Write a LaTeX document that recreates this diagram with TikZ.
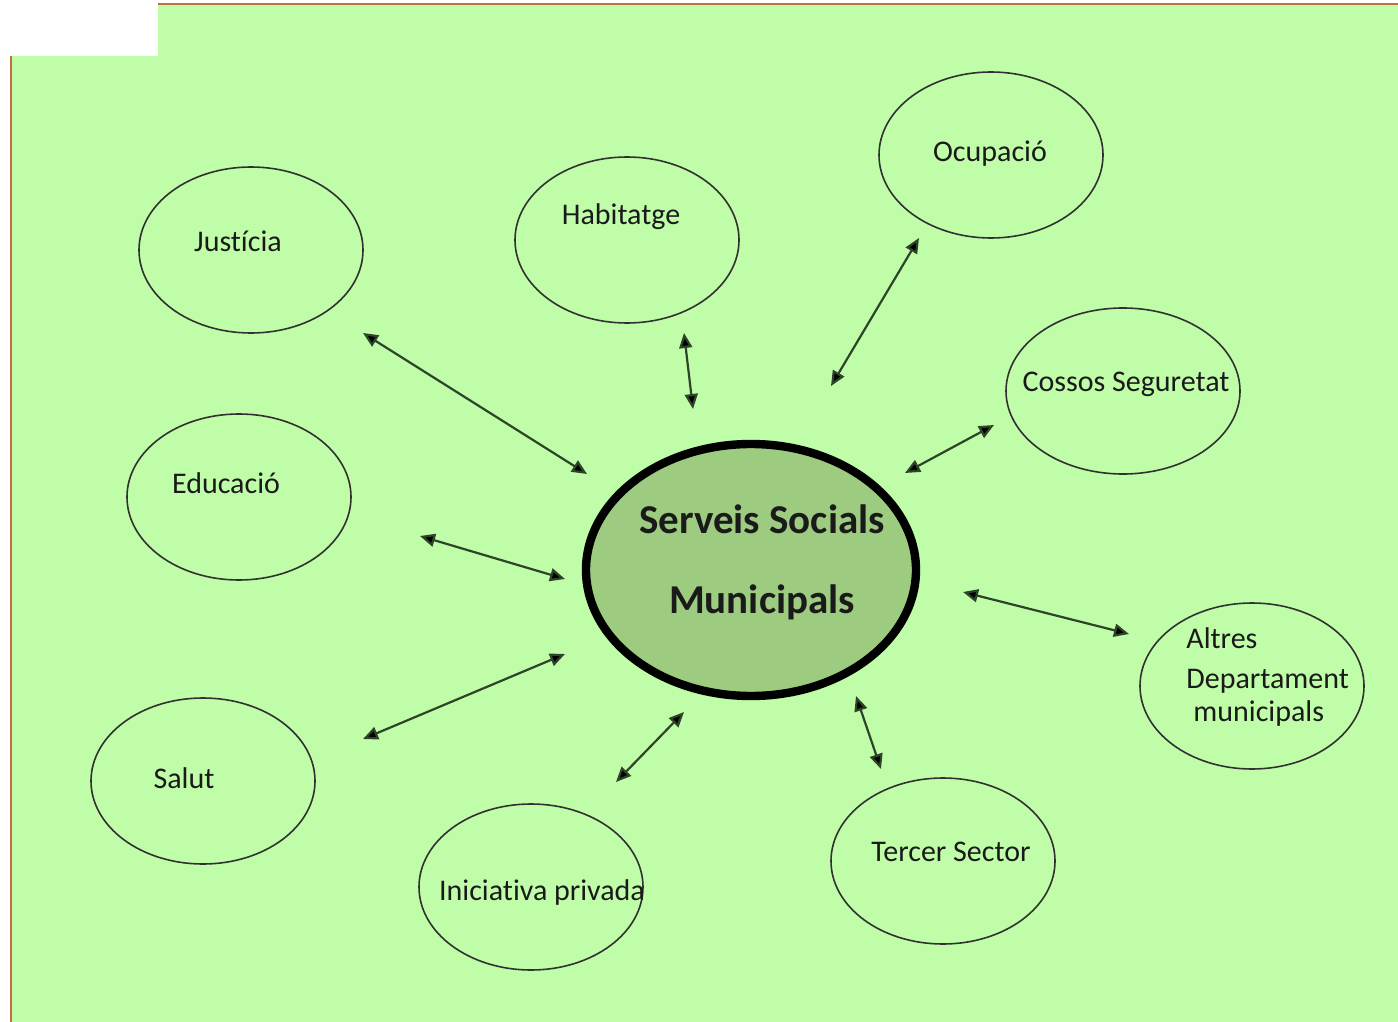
\documentclass[tikz,border=0pt]{standalone}
\usepackage{fontspec}
\setmainfont{Carlito}[Ligatures=CommonOff]
\usetikzlibrary{shapes.geometric,arrows.meta}
\definecolor{bggreen}{HTML}{C0FDA8}
\definecolor{hubgreen}{HTML}{9DCB80}
\definecolor{frame}{HTML}{C0703A}
\definecolor{ink}{HTML}{1A1A1A}
\definecolor{shaft}{HTML}{2E4428}
\tikzset{
  bubble/.style={ellipse, draw=ink!90, line width=0.8pt, minimum width=112pt, minimum height=83pt, inner sep=0pt},
  hub/.style={ellipse, draw=black, fill=hubgreen, line width=4.2pt, minimum width=165pt, minimum height=126pt, inner sep=0pt},
  lbl/.style={anchor=base, inner sep=0pt, text=ink, font=\fontsize{15}{18}\selectfont},
  hublbl/.style={anchor=base, inner sep=0pt, text=ink, font=\fontsize{20.5}{24}\selectfont\bfseries},
  link/.style={{Triangle[length=7.5pt,width=6.5pt,fill=black]}-{Triangle[length=7.5pt,width=6.5pt,fill=black]}, line width=1.1pt, draw=shaft}
}
\begin{document}
\begin{tikzpicture}[x=0.5pt,y=-0.5pt]
\useasboundingbox (0,0) rectangle (1398,1022);
\fill[white] (0,0) rectangle (1398,1022);
\fill[bggreen] (12,56) rectangle (1398,1022);
\fill[bggreen] (158,5) rectangle (1398,56);
\draw[frame, line width=1pt] (158,4) -- (1398,4);
\draw[frame, line width=1pt] (11,56) -- (11,1022);

\node[hub] (ssm) at (751,570) {};
\node[hublbl] (ssm-1) at (762,533) {Serveis Socials};
\node[hublbl] (ssm-2) at (762,613) {Municipals};

\node[bubble] (jus) at (251,250) {};
\node[lbl] (jus-t) at (238,251) {Justícia};
\node[bubble] (hab) at (627,240) {};
\node[lbl] (hab-t) at (621,224) {Habitatge};
\node[bubble] (ocu) at (991,155) {};
\node[lbl] (ocu-t) at (990,162) {Ocupació};
\node[bubble, minimum width=117pt] (cos) at (1123,391) {};
\node[lbl] (cos-t) at (1126,391) {Cossos Seguretat};
\node[bubble] (edu) at (239,497) {};
\node[lbl] (edu-t) at (226,493) {Educació};
\node[bubble] (alt) at (1252,686) {};
\node[lbl, anchor=base west] (alt-1) at (1186,648) {Altres};
\node[lbl, anchor=base west] (alt-2) at (1186,688) {Departament};
\node[lbl, anchor=base west] (alt-3) at (1193,721) {municipals};
\node[bubble] (sal) at (203,781) {};
\node[lbl] (sal-t) at (184,788) {Salut};
\node[bubble] (ini) at (531,887) {};
\node[lbl] (ini-t) at (542,900) {Iniciativa privada};
\node[bubble] (ter) at (943,861) {};
\node[lbl] (ter-t) at (951,861) {Tercer Sector};

\coordinate (jus-a) at (363,333);
\coordinate (jus-b) at (587,474);
\coordinate (hab-a) at (684,333);
\coordinate (hab-b) at (693,409);
\coordinate (ocu-a) at (919,238);
\coordinate (ocu-b) at (831,386);
\coordinate (cos-a) at (994,425);
\coordinate (cos-b) at (905,473);
\coordinate (edu-a) at (420,536);
\coordinate (edu-b) at (565,579);
\coordinate (alt-a) at (1129,634);
\coordinate (alt-b) at (963,592);
\coordinate (sal-a) at (363,739);
\coordinate (sal-b) at (565,654);
\coordinate (ini-a) at (616,782);
\coordinate (ini-b) at (684,712);
\coordinate (ter-a) at (881,769);
\coordinate (ter-b) at (856,696);

\draw[link] (jus-a) -- (jus-b);
\draw[link] (hab-a) -- (hab-b);
\draw[link] (ocu-a) -- (ocu-b);
\draw[link] (cos-a) -- (cos-b);
\draw[link] (edu-a) -- (edu-b);
\draw[link] (alt-a) -- (alt-b);
\draw[link] (sal-a) -- (sal-b);
\draw[link] (ini-a) -- (ini-b);
\draw[link] (ter-a) -- (ter-b);
\end{tikzpicture}
\end{document}
